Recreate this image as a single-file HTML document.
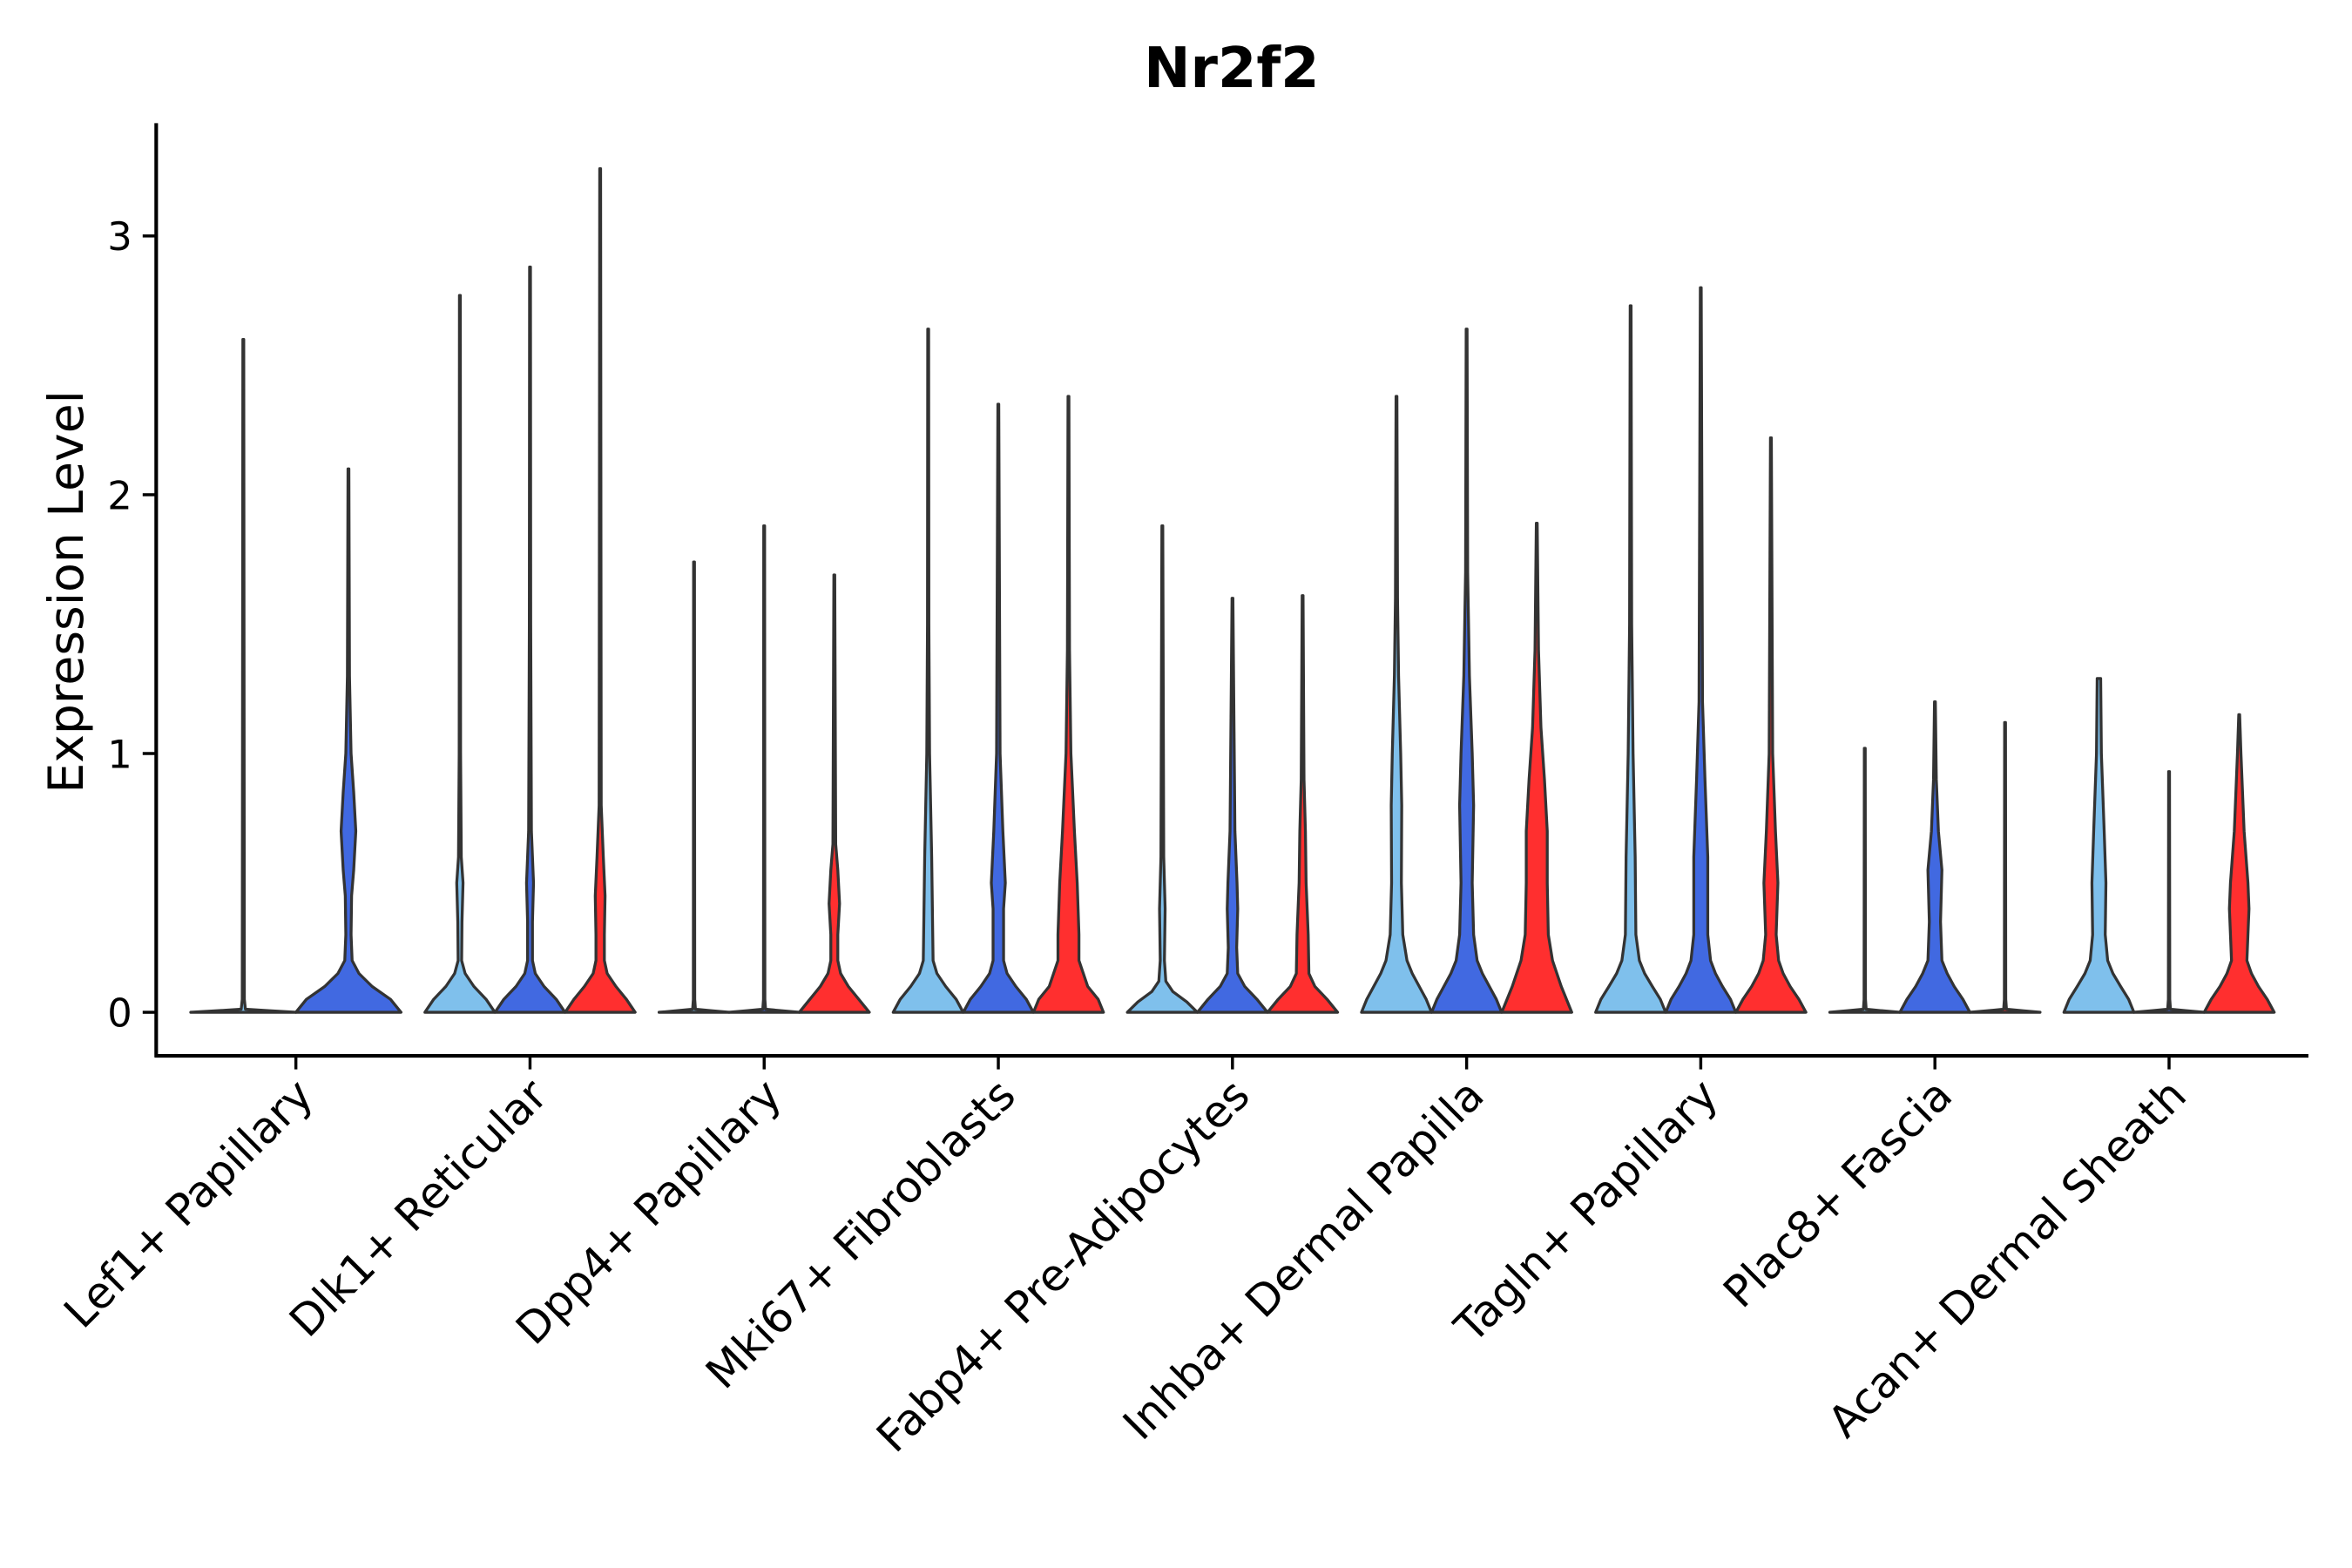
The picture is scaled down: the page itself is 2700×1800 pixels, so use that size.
<!DOCTYPE html>
<html><head><meta charset="utf-8">
<style>
html,body{margin:0;padding:0;background:#fff;}
svg{display:block;}
text{font-family:"DejaVu Sans","Liberation Sans",sans-serif;fill:#000;}
</style></head>
<body>
<svg id="chart" width="2700" height="1800" viewBox="0 0 1566 1044" xmlns="http://www.w3.org/2000/svg">
<rect width="1566" height="1044" fill="#fff"/>
<text x="820" y="58" text-anchor="middle" font-size="37" font-weight="bold">Nr2f2</text>
<text transform="translate(55,394) rotate(-90)" text-anchor="middle" font-size="32">Expression Level</text>
<g id="plot"></g>
</svg>
<script>
const categories = ["Lef1+ Papillary","Dlk1+ Reticular","Dpp4+ Papillary","Mki67+ Fibroblasts","Fabp4+ Pre-Adipocytes","Inhba+ Dermal Papilla","Tagln+ Papillary","Plac8+ Fascia","Acan+ Dermal Sheath"];
const yTicks = [0,1,2,3];
const seriesColors = ["#7FC0EC","#4169E1","#FF2F2F"];
// per category: violins as [seriesIndex, max, profile [[value, relWidth],...]]
const lef1 = [[0, 2.6, "flat"],[1, 2.1, [[0,1],[0.05,0.8],[0.1,0.45],[0.15,0.2],[0.2,0.07],[0.3,0.05],[0.45,0.06],[0.55,0.1],[0.7,0.14],[0.85,0.1],[1.0,0.05],[1.3,0.02],[2.1,0]]]];
const dlk1 = [[0, 2.77, [[0,1],[0.05,0.75],[0.1,0.4],[0.15,0.15],[0.2,0.05],[0.35,0.06],[0.5,0.09],[0.6,0.04],[1.0,0.02],[2.77,0]]],[1, 2.88, [[0,1],[0.05,0.75],[0.1,0.4],[0.15,0.15],[0.2,0.07],[0.35,0.07],[0.5,0.1],[0.7,0.04],[1.5,0.02],[2.88,0]]],[2, 3.26, [[0,1],[0.05,0.75],[0.1,0.45],[0.15,0.2],[0.2,0.12],[0.3,0.12],[0.45,0.14],[0.6,0.09],[0.8,0.03],[3.26,0]]]];
const dpp4 = [[0, 1.74, "flat"],[1, 1.88, "flat"],[2, 1.69, [[0,1],[0.05,0.7],[0.1,0.4],[0.15,0.18],[0.2,0.1],[0.3,0.1],[0.42,0.15],[0.55,0.1],[0.65,0.04],[1.69,0]]]];
const mki67 = [[0, 2.64, [[0,1],[0.05,0.8],[0.1,0.5],[0.15,0.25],[0.2,0.14],[0.4,0.12],[0.6,0.1],[0.8,0.07],[1.0,0.04],[1.5,0.02],[2.64,0]]],[1, 2.35, [[0,1],[0.05,0.8],[0.1,0.5],[0.15,0.25],[0.2,0.15],[0.4,0.15],[0.5,0.2],[0.7,0.13],[1.0,0.05],[2.35,0]]],[2, 2.38, [[0,1],[0.05,0.85],[0.1,0.55],[0.2,0.3],[0.3,0.3],[0.5,0.25],[0.7,0.17],[1.0,0.07],[1.4,0.03],[2.38,0]]]];
const fabp4 = [[0, 1.88, [[0,1],[0.04,0.7],[0.08,0.3],[0.12,0.1],[0.2,0.06],[0.4,0.08],[0.6,0.04],[1.88,0]]],[1, 1.6, [[0,1],[0.05,0.7],[0.1,0.35],[0.15,0.15],[0.25,0.12],[0.4,0.15],[0.5,0.13],[0.7,0.07],[1.6,0]]],[2, 1.61, [[0,1],[0.05,0.7],[0.1,0.35],[0.15,0.18],[0.3,0.16],[0.5,0.1],[0.7,0.08],[0.9,0.04],[1.61,0]]]];
const inhba = [[0, 2.38, [[0,1],[0.05,0.85],[0.1,0.65],[0.15,0.45],[0.2,0.3],[0.3,0.18],[0.5,0.14],[0.8,0.15],[1.0,0.12],[1.3,0.06],[1.6,0.03],[2.38,0]]],[1, 2.64, [[0,1],[0.05,0.85],[0.1,0.65],[0.15,0.45],[0.2,0.3],[0.3,0.2],[0.5,0.16],[0.8,0.2],[1.0,0.16],[1.3,0.08],[1.7,0.03],[2.64,0]]],[2, 1.89, [[0,1],[0.05,0.85],[0.1,0.7],[0.2,0.45],[0.3,0.33],[0.5,0.3],[0.7,0.3],[0.9,0.22],[1.1,0.12],[1.4,0.05],[1.89,0]]]];
const tagln = [[0, 2.73, [[0,1],[0.05,0.85],[0.1,0.62],[0.15,0.4],[0.2,0.25],[0.3,0.15],[0.6,0.13],[1.0,0.07],[1.5,0.03],[2.73,0]]],[1, 2.8, [[0,1],[0.05,0.85],[0.1,0.62],[0.15,0.42],[0.2,0.28],[0.3,0.2],[0.6,0.2],[0.9,0.12],[1.2,0.05],[2.8,0]]],[2, 2.22, [[0,1],[0.05,0.8],[0.1,0.55],[0.15,0.35],[0.2,0.22],[0.3,0.15],[0.5,0.2],[0.7,0.13],[1.0,0.05],[2.22,0]]]];
const plac8 = [[0, 1.02, "flat"],[1, 1.2, [[0,1],[0.05,0.8],[0.1,0.55],[0.15,0.35],[0.2,0.2],[0.35,0.16],[0.55,0.2],[0.7,0.1],[0.9,0.04],[1.2,0]]],[2, 1.12, "flat"]];
const acan = [[0, 1.29, [[0,1],[0.05,0.85],[0.1,0.62],[0.15,0.4],[0.2,0.25],[0.3,0.18],[0.5,0.2],[0.7,0.15],[1.0,0.07],[1.29,0.05]]],[1, 0.93, "flat"],[2, 1.15, [[0,1],[0.05,0.8],[0.1,0.55],[0.15,0.35],[0.2,0.22],[0.3,0.25],[0.4,0.28],[0.5,0.25],[0.7,0.14],[1.0,0.05],[1.15,0]]]];
const violins = [lef1, dlk1, dpp4, mki67, fabp4, inhba, tagln, plac8, acan];

const NS = "http://www.w3.org/2000/svg";
const plot = document.getElementById("plot");
const X0 = 104, X1 = 1537, YB = 703, YT = 82;
const yScale = v => 674 - 172.3 * v;
const xBand = i => 197 + i * 155.9;
function mk(tag, attrs){ const e = document.createElementNS(NS, tag); for (const k in attrs) e.setAttribute(k, attrs[k]); plot.appendChild(e); return e; }

violins.forEach((group, gi) => {
  const n = group.length;
  const hw = n === 2 ? 35 : 23.3;
  const off = n === 2 ? 70 : 46.7;
  group.forEach((v, vi) => {
    const cx = xBand(gi) + (vi - (n - 1) / 2) * off;
    let prof = v[2];
    if (prof === "flat") prof = [[0,1],[0.006,0.5],[0.012,0.04],[0.05,0.02],[v[1],0]];
    const pts = prof.map(p => [yScale(p[0]), Math.max(p[1] * hw, 0.3)]);
    let d = "M" + (cx - pts[0][1]) + "," + pts[0][0];
    pts.forEach(p => { d += " L" + (cx - p[1]) + "," + p[0]; });
    for (let k = pts.length - 1; k >= 0; k--) d += " L" + (cx + pts[k][1]) + "," + pts[k][0];
    d += " Z";
    const el = mk("path", {d: d, fill: seriesColors[v[0]], stroke: "#333", "stroke-width": 1.9, "stroke-linejoin": "round"});
    
    
  });
  const t = mk("line", {x1: xBand(gi), x2: xBand(gi), y1: YB, y2: YB + 9, stroke: "#000", "stroke-width": 2});
  
  
  const lx = xBand(gi) + 13, ly = YB + 28;
  const lab = mk("text", {x: lx, y: ly, "text-anchor": "end", "font-size": 29, transform: "rotate(-45 " + lx + " " + ly + ")"});
  lab.textContent = categories[gi];
  
  
});

yTicks.forEach(v => {
  const t = mk("line", {x1: X0 - 9, x2: X0, y1: yScale(v), y2: yScale(v), stroke: "#000", "stroke-width": 2});
  
  
  const l = mk("text", {x: X0 - 16, y: yScale(v) + 9.5, "text-anchor": "end", "font-size": 26});
  l.textContent = v;
  
  
});
const ya = mk("line", {x1: X0, x2: X0, y1: YT, y2: YB + 1, stroke: "#000", "stroke-width": 2.4});


const xa = mk("line", {x1: X0 - 1, x2: X1, y1: YB, y2: YB, stroke: "#000", "stroke-width": 2.4});


</script>
</body></html>
